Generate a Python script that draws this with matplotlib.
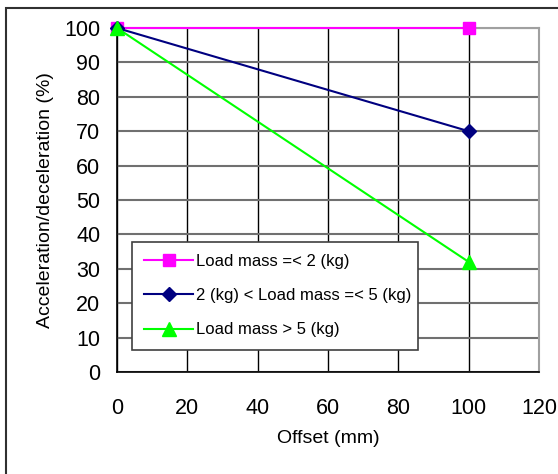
import matplotlib.pyplot as plt
from matplotlib.patches import Rectangle

plt.rcParams['font.family'] = ['Liberation Sans', 'DejaVu Sans']

offset = [0, 100]
light = [100, 100]
medium = [100, 70]
heavy = [100, 32]
labels = ["Load mass =< 2 (kg)", "2 (kg) < Load mass =< 5 (kg)", "Load mass > 5 (kg)"]
xticks = [0, 20, 40, 60, 80, 100, 120]
yticks = list(range(0, 101, 10))

fig = plt.figure(figsize=(5.58, 4.74), dpi=100)
ax = fig.add_axes([0.2097, 0.2152, 0.7563, 0.7257])

# outer frame of the chart area
fig.patches.append(Rectangle((0.011, -0.1), 1.2, 1.083, transform=fig.transFigure,
                             fill=False, edgecolor='#303030', linewidth=1.5))

ax.plot(offset, light, color='#ff00ff', marker='s', markersize=8, lw=1.5,
        label=labels[0], clip_on=False, zorder=5)
ax.plot(offset, medium, color='#000080', marker='D', markersize=7, lw=1.5,
        label=labels[1], clip_on=False, zorder=5)
ax.plot(offset, heavy, color='#00ff00', marker='^', markersize=10, lw=1.5,
        label=labels[2], clip_on=False, zorder=6)

ax.set_xlim(0, 120)
ax.set_ylim(0, 100)
ax.set_xticks(xticks)
ax.set_yticks(yticks)
ax.tick_params(axis='both', labelsize=15.5, length=0)
ax.tick_params(axis='x', pad=19)
ax.tick_params(axis='y', pad=12)
ax.xaxis.grid(True, color='black', lw=1)
ax.yaxis.grid(True, color='#707070', lw=1.5)
ax.set_axisbelow(True)
for s in ['top', 'right']:
    ax.spines[s].set_color('#a0a0a0')
    ax.spines[s].set_linewidth(1.5)
ax.spines['left'].set_linewidth(1.2)
ax.spines['bottom'].set_linewidth(1.2)

ax.set_xlabel('Offset (mm)', fontsize=14, labelpad=8)
ax.set_ylabel('Acceleration/deceleration (%)', fontsize=14, labelpad=7)

leg = ax.legend(loc='lower left', bbox_to_anchor=(0.0355, 0.064, 0.678, 0.308),
                mode='expand', fontsize=12, frameon=True, fancybox=False,
                edgecolor='#404040', framealpha=1, labelspacing=1.15,
                handlelength=2.9, handletextpad=0.2, borderaxespad=0,
                borderpad=0.75)
leg.get_frame().set_linewidth(1.2)

fig.savefig('out.png', dpi=100)
